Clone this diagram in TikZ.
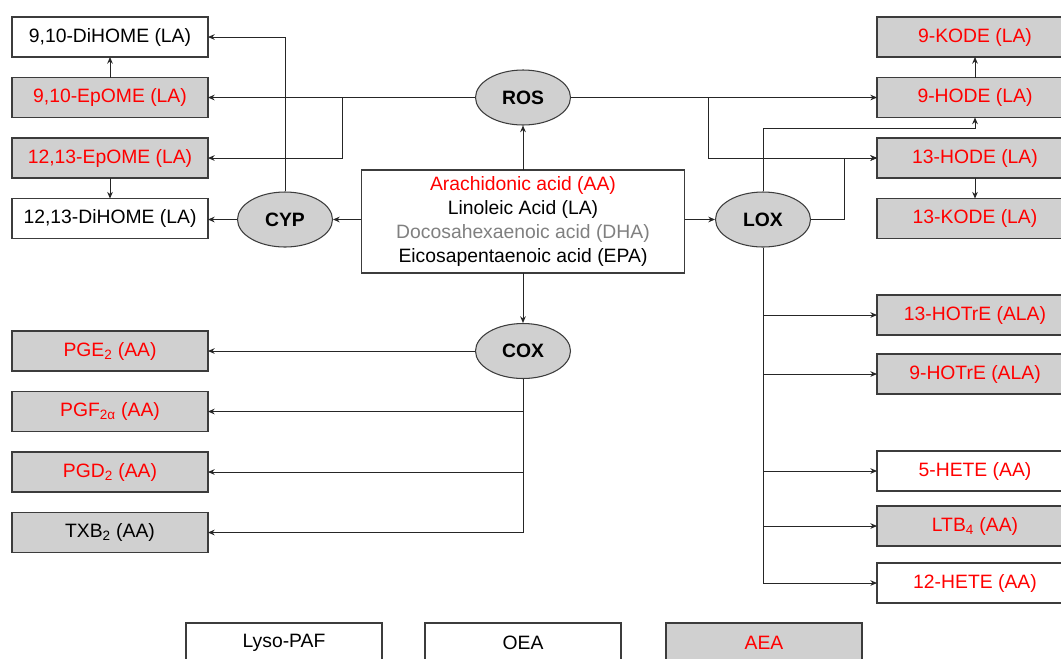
\documentclass[tikz,border=0pt]{standalone}
\usepackage{fontspec}
\setmainfont{Liberation Sans}
\usepackage{xcolor}
\usepackage{tikz}
\usetikzlibrary{arrows.meta,positioning,shapes.geometric}
\definecolor{boxgray}{HTML}{D0D0D0}
\definecolor{edgegray}{HTML}{3C3C3C}
\definecolor{acidred}{HTML}{FF0000}
\definecolor{dhagray}{HTML}{808080}
\tikzset{
  metab/.style  = {draw=edgegray, fill=white, line width=0.9pt, minimum width=5.88cm,
                   minimum height=1.2cm, inner sep=0pt, outer sep=0pt,
                   font=\fontsize{16.5}{19.5}\selectfont},
  found/.style  = {metab, fill=boxgray},
  enzyme/.style = {ellipse, draw=edgegray, fill=boxgray, line width=0.9pt,
                   minimum width=2.85cm, minimum height=1.65cm, inner sep=0pt,
                   font=\fontsize{16.5}{19.5}\selectfont\bfseries},
  pool/.style   = {draw=edgegray, fill=white, line width=0.9pt, minimum width=9.69cm,
                   minimum height=3.09cm, align=center, outer sep=0pt,
                   font=\fontsize{16.5}{20.5}\selectfont},
  flow/.style   = {-{Stealth[length=2mm,width=1.7mm]}, draw=black!85, line width=0.8pt},
  link/.style   = {draw=black!85, line width=0.8pt},
}

\begin{document}
\begin{tikzpicture}[x=0.03cm, y=-0.03cm, node distance=6.15mm]
\clip (0,0) rectangle (1061,658);

% ---------------- precursors and enzymes ------------------------------
\node[pool] (fa) at (523,221.5)
  {\textcolor{acidred}{Arachidonic acid (AA)}\\
   Linoleic Acid (LA)\\
   \textcolor{dhagray}{Docosahexaenoic acid (DHA)}\\
   Eicosapentaenoic acid (EPA)};

\node[enzyme] (ros) at (523,97.5) {ROS};
\node[enzyme] (cyp) at (285,219.5) {CYP};
\node[enzyme] (lox) at (763,219.5) {LOX};
\node[enzyme] (cox) at (523,351) {COX};

% ---------------- linoleic acid products, left ------------------------
\node[metab] (dih910) at (110,37) {9,10-DiHOME (LA)};
\node[found, text=acidred, below=of dih910] (ep910) {9,10-EpOME (LA)};
\node[found, text=acidred, below=of ep910] (ep1213) {12,13-EpOME (LA)};
\node[metab, below=of ep1213] (dih1213) {12,13-DiHOME (LA)};

% ---------------- linoleic acid products, right -----------------------
\node[found, text=acidred] (kode9) at (975,37) {9-KODE (LA)};
\node[found, text=acidred, below=of kode9] (hode9) {9-HODE (LA)};
\node[found, text=acidred, below=of hode9] (hode13) {13-HODE (LA)};
\node[found, text=acidred, below=of hode13] (kode13) {13-KODE (LA)};

% ---------------- LOX products ----------------------------------------
\node[found, text=acidred] (hotre13) at (975,315) {13-HOTrE (ALA)};
\node[found, text=acidred] (hotre9) at (975,374) {9-HOTrE (ALA)};
\node[metab, text=acidred] (hete5) at (975,471) {5-HETE (AA)};
\node[found, text=acidred] (ltb4) at (975,526) {LTB\textsubscript{4} (AA)};
\node[metab, text=acidred] (hete12) at (975,583) {12-HETE (AA)};

% ---------------- COX products ----------------------------------------
\node[found, text=acidred] (pge2) at (110,351) {PGE\textsubscript{2} (AA)};
\node[found, text=acidred, below=of pge2] (pgf2a) {PGF\textsubscript{2α} (AA)};
\node[found, text=acidred, below=of pgf2a] (pgd2) {PGD\textsubscript{2} (AA)};
\node[found, below=of pgd2] (txb2) {TXB\textsubscript{2} (AA)};

% ---------------- others ----------------------------------------------
\node[metab] (lysopaf) at (284,643) {Lyso-PAF};
\node[metab] (oea) at (523,643) {OEA};
\node[found, text=acidred] (aea) at (764,643) {AEA};

% ---------------- connectors ------------------------------------------
\foreach \e in {ros, cox}
  \draw[flow] (fa) -- (\e);
\draw[flow] (fa.west |- cyp) -- (cyp);
\draw[flow] (fa.east |- lox) -- (lox);

\coordinate (rosL) at (342,97.5);
\coordinate (rosR) at (708,97.5);
\draw[flow] (ros) -- (ep910);
\draw[flow] (rosL) |- (ep1213);
\draw[flow] (ros) -- (hode9);
\draw[flow] (rosR) |- (hode13);

\draw[flow] (cyp) |- (dih910);
\draw[flow] (cyp) -- (cyp -| dih1213.east);
\draw[flow] (ep910) -- (dih910);
\draw[flow] (ep1213) -- (dih1213);

\coordinate (loxT) at (763,128);
\coordinate (loxR) at (844,219.5);
\draw[flow] (lox) -- (loxT) -| (hode9);
\draw[flow] (lox) -- (loxR) |- (hode13);
\draw[flow] (hode9) -- (kode9);
\draw[flow] (hode13) -- (kode13);

\draw[link] (lox) -- (lox |- hete12);
\foreach \m in {hotre13, hotre9, hete5, ltb4, hete12}
  \draw[flow] (lox |- \m) -- (\m);

\draw[flow] (cox) -- (pge2);
\draw[link] (cox) -- (cox |- txb2);
\foreach \m in {pgf2a, pgd2, txb2}
  \draw[flow] (cox |- \m) -- (\m);

\end{tikzpicture}
\end{document}
